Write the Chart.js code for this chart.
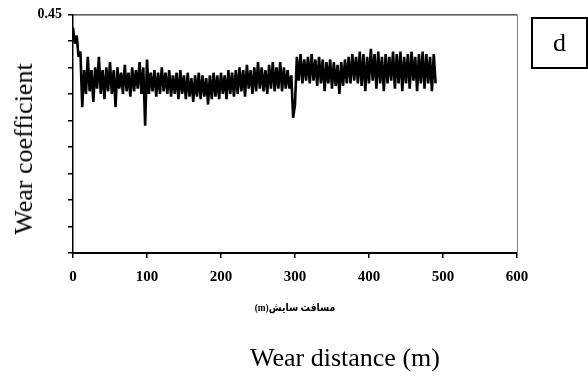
<!DOCTYPE html>
<html>
<head>
<meta charset="utf-8">
<script src="https://cdn.jsdelivr.net/npm/chart.js@4.4.0/dist/chart.umd.min.js"></script>
<style>
  html, body { margin: 0; padding: 0; background: #fff; }
  #wrap { position: relative; width: 588px; height: 377px; overflow: hidden; }
  #chart { position: absolute; left: 0; top: 0; }
  .lbl { position: absolute; color: #000; white-space: nowrap; }
  #ytitle { left: 24px; top: 149px; font: 26px 'Liberation Serif', serif; transform: translate(-50%, -50%) rotate(-90deg); }
  #xtitle-fa { left: 295px; top: 307px; font: bold 11px 'Liberation Serif', 'DejaVu Sans', sans-serif; transform: translate(-50%, -50%) scaleX(0.85); direction: rtl; }
  #xtitle-en { left: 250px; top: 343px; font: 26px 'Liberation Serif', serif; }
  #tag { left: 531px; top: 17px; width: 57px; height: 52px; box-sizing: border-box; border: 2px solid #000;
         font: 26px 'Liberation Serif', serif; display: flex; align-items: center; justify-content: center; }
</style>
</head>
<body>
<div id="wrap">
  <canvas id="chart" width="588" height="377"></canvas>
  <div class="lbl" id="ytitle">Wear coefficient</div>
  <div class="lbl" id="xtitle-fa" dir="rtl">مسافت سایش(m)</div>
  <div class="lbl" id="xtitle-en">Wear distance (m)</div>
  <div class="lbl" id="tag">d</div>
</div>
<script>
// sampling step of the recorded wear distance (m)
const STEP = 2.5;

// wear coefficient, one value every STEP metres from 0 to 490 m
const wearCoef = [
  0.425, 0.395, 0.41, 0.37, 0.38, 0.275, 0.345, 0.30, 0.37, 0.305,
  0.345, 0.285, 0.35, 0.31, 0.37, 0.30, 0.345, 0.29, 0.35, 0.305,
  0.36, 0.30, 0.345, 0.275, 0.35, 0.31, 0.34, 0.30, 0.355, 0.305,
  0.34, 0.295, 0.35, 0.305, 0.345, 0.31, 0.36, 0.30, 0.35, 0.24,
  0.365, 0.30, 0.34, 0.305, 0.345, 0.295, 0.34, 0.30, 0.35, 0.305,
  0.34, 0.30, 0.345, 0.295, 0.335, 0.30, 0.34, 0.29, 0.345, 0.30,
  0.335, 0.29, 0.34, 0.295, 0.33, 0.285, 0.335, 0.295, 0.34, 0.29,
  0.335, 0.295, 0.33, 0.28, 0.335, 0.29, 0.34, 0.295, 0.335, 0.29,
  0.34, 0.30, 0.335, 0.29, 0.345, 0.30, 0.34, 0.295, 0.345, 0.30,
  0.35, 0.305, 0.345, 0.295, 0.355, 0.31, 0.345, 0.30, 0.35, 0.305,
  0.36, 0.31, 0.35, 0.305, 0.345, 0.30, 0.355, 0.31, 0.36, 0.305,
  0.35, 0.31, 0.36, 0.305, 0.35, 0.31, 0.345, 0.31, 0.335, 0.255,
  0.28, 0.37, 0.325, 0.375, 0.32, 0.365, 0.325, 0.37, 0.32, 0.375,
  0.325, 0.365, 0.315, 0.37, 0.32, 0.365, 0.305, 0.36, 0.32, 0.365,
  0.31, 0.36, 0.315, 0.355, 0.30, 0.36, 0.315, 0.365, 0.32, 0.37,
  0.32, 0.375, 0.325, 0.37, 0.32, 0.38, 0.315, 0.375, 0.305, 0.37,
  0.32, 0.385, 0.325, 0.375, 0.31, 0.38, 0.32, 0.37, 0.305, 0.375,
  0.32, 0.37, 0.325, 0.38, 0.31, 0.375, 0.32, 0.38, 0.305, 0.37,
  0.32, 0.375, 0.31, 0.38, 0.325, 0.37, 0.305, 0.375, 0.32, 0.38,
  0.31, 0.375, 0.32, 0.37, 0.305, 0.375, 0.32
];

// axis ticks
const xTicks = [0, 100, 200, 300, 400, 500, 600];
const yMin = 0, yMax = 0.45, yStep = 0.05;
const yLabels = ['0.45'];   // only the top tick carries a label

const points = wearCoef.map((v, i) => ({ x: i * STEP, y: v }));

// thin frame on the top and right of the plot
const framePlugin = {
  id: 'frame',
  afterDraw(chart) {
    const { ctx, chartArea: a } = chart;
    ctx.save();
    ctx.lineWidth = 1;
    ctx.strokeStyle = '#000';
    ctx.beginPath();
    ctx.moveTo(a.left, a.top + 0.5);
    ctx.lineTo(a.right, a.top + 0.5);
    ctx.stroke();
    ctx.strokeStyle = '#888';
    ctx.beginPath();
    ctx.moveTo(a.right + 0.5, a.top);
    ctx.lineTo(a.right + 0.5, a.bottom);
    ctx.stroke();
    ctx.restore();
  }
};

new Chart(document.getElementById('chart'), {
  type: 'line',
  data: {
    datasets: [{
      data: points,
      borderColor: '#000',
      borderWidth: 2.6,
      borderJoinStyle: 'bevel',
      borderCapStyle: 'butt',
      pointRadius: 0,
      tension: 0
    }]
  },
  options: {
    responsive: false,
    animation: false,
    layout: { padding: { top: 13, right: 71, left: 0, bottom: 0 } },
    plugins: { legend: { display: false }, tooltip: { enabled: false } },
    scales: {
      x: {
        type: 'linear',
        min: xTicks[0],
        max: xTicks[xTicks.length - 1],
        afterFit: s => { s.height = 124; },
        afterBuildTicks: s => { s.ticks = xTicks.map(v => ({ value: v })); },
        ticks: {
          color: '#000',
          padding: 10,
          maxRotation: 0,
          font: { family: 'Liberation Serif', weight: 'bold', size: 15 }
        },
        grid: { drawOnChartArea: false, tickLength: 5, color: '#000', lineWidth: 1.5 },
        border: { color: '#000', width: 2 }
      },
      y: {
        min: yMin,
        max: yMax,
        afterFit: s => { s.width = 73; },
        ticks: {
          stepSize: yStep,
          color: '#000',
          padding: 6,
          font: { family: 'Liberation Serif', weight: 'bold', size: 14 },
          callback: v => Math.abs(v - yMax) < 1e-9 ? yLabels[0] : ''
        },
        grid: { drawOnChartArea: false, tickLength: 5, color: '#000', lineWidth: 1.5 },
        border: { color: '#000', width: 1.5 }
      }
    }
  },
  plugins: [framePlugin]
});
</script>
</body>
</html>
